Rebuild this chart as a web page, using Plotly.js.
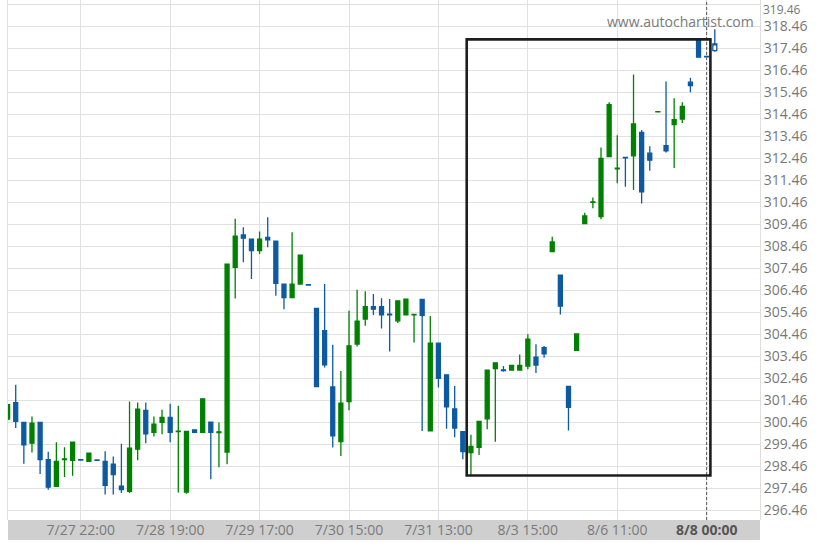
<!DOCTYPE html>
<html><head><meta charset="utf-8">
<script src="https://cdn.plot.ly/plotly-3.0.1.min.js"></script>
<style>html,body{margin:0;padding:0;background:#fff}#chart{width:822px;height:548px}</style>
</head><body><div id="chart"></div>
<script>
// candle index (time slot) and OHLC values
const openP = [300.60,301.35,300.45,299.50,300.45,298.75,297.54,298.75,298.72,298.75,
298.67,298.74,298.67,298.55,297.54,297.31,299.23,300.99,299.99,300.45,
300.67,300.03,297.28,300.10,299.99,300.46,299.98,299.10,307.50,308.98,
308.79,308.26,308.87,308.69,306.74,306.13,306.74,306.72,305.63,304.62,
302.06,299.57,301.39,304.01,305.15,305.72,305.72,305.37,305.07,305.34,
305.34,306.05,300.06,304.05,302.61,301.06,300.03,299.07,299.31,300.61,
302.89,302.84,302.83,302.83,303.01,303.42,303.85,308.22,307.15,302.09,
303.73,309.49,310.46,309.81,312.54,311.99,312.51,312.58,313.65,312.70,
314.58,313.04,314.00,314.25,315.93,317.88,317.10];
const highP = [301.25,302.16,300.45,300.72,300.45,299.11,299.54,299.32,299.55,298.75,
299.05,298.74,299.13,298.90,299.48,301.40,301.35,301.35,300.72,301.02,
301.29,301.20,300.04,300.10,301.52,300.46,300.44,307.65,309.71,309.33,
308.79,309.14,309.78,308.69,306.74,309.10,308.06,306.72,305.63,306.74,
303.98,302.79,305.53,306.48,306.41,306.29,306.10,306.06,306.00,306.06,
305.36,306.05,305.29,304.05,302.61,302.10,300.03,299.88,300.49,302.83,
303.16,303.01,303.04,303.54,304.46,304.00,303.92,308.90,307.15,302.09,
304.47,309.99,310.68,312.96,315.02,313.52,312.51,316.28,313.75,313.01,
314.59,315.96,315.20,315.02,316.13,317.88,317.10];
const lowP = [300.55,300.19,298.57,299.08,298.10,297.38,297.54,297.96,298.02,298.73,
298.64,298.72,297.16,297.16,297.23,297.23,298.72,299.50,299.81,299.91,
299.54,297.26,297.20,299.98,299.99,297.86,298.41,298.54,306.09,307.73,
306.97,308.11,308.42,306.21,305.60,306.13,306.74,306.70,302.08,302.94,
299.30,298.92,301.00,303.90,304.84,305.34,304.72,303.67,304.97,305.34,
304.08,300.06,300.06,302.03,300.16,299.77,298.77,298.03,298.96,300.14,
299.57,302.75,302.83,302.83,302.86,302.70,303.39,308.22,305.36,300.08,
303.73,309.49,310.19,309.69,312.54,311.33,311.17,311.02,310.41,311.90,
314.58,312.73,312.02,314.07,315.47,317.07,317.08];
const closeP = [301.25,300.49,299.43,300.41,298.75,297.50,298.67,298.79,299.55,298.73,
299.05,298.72,297.58,298.07,297.39,299.28,301.05,299.93,300.37,300.67,
299.99,300.05,300.04,299.99,301.52,299.99,300.02,307.65,308.92,308.83,
308.26,308.79,308.76,306.77,306.13,306.74,308.06,306.70,302.08,303.07,
299.83,301.32,303.93,305.06,305.72,305.60,305.34,305.34,305.98,306.06,
305.36,305.32,304.05,302.45,301.15,300.19,299.12,299.35,300.49,302.83,
303.16,302.80,303.04,303.04,304.23,303.06,303.57,308.66,305.74,301.13,
304.47,309.84,310.48,312.46,314.91,312.02,312.49,314.03,310.94,312.38,
314.59,312.81,314.22,314.83,315.78,317.07,317.08];
// current (open) candle
const lastOpen = [317.37], lastHigh = [318.34], lastLow = [317.32], lastClose = [317.67];
const lastIndex = [87];

const tickIndex = [9, 20, 31, 42, 53, 64, 75, 86];
const tickLabels = ['7/27 22:00','7/28 19:00','7/29 17:00','7/30 15:00','7/31 13:00','8/3 15:00','8/6 11:00','8/8 00:00'];
const priceTicks = [296.46,297.46,298.46,299.46,300.46,301.46,302.46,303.46,304.46,305.46,306.46,307.46,308.46,309.46,310.46,311.46,312.46,313.46,314.46,315.46,316.46,317.46,318.46,319.46];
// pattern box: index span and price span
const boxIndex = [56.48, 86.46];
const boxPrice = [298.03, 317.88];
const markerIndex = 86;

const GREEN = '#008000', BLUE = '#0d5aa0';
const idx = openP.map((_, i) => i);

const traces = [{
  type: 'candlestick', x: idx, open: openP, high: highP, low: lowP, close: closeP,
  increasing: {line: {color: GREEN, width: 1.3}, fillcolor: GREEN},
  decreasing: {line: {color: BLUE, width: 1.3}, fillcolor: BLUE},
  hoverinfo: 'skip', showlegend: false
}, {
  type: 'candlestick', x: lastIndex, open: lastOpen, high: lastHigh, low: lastLow, close: lastClose,
  increasing: {line: {color: BLUE, width: 1.3}, fillcolor: '#ffffff'},
  decreasing: {line: {color: BLUE, width: 1.3}, fillcolor: '#ffffff'},
  hoverinfo: 'skip', showlegend: false
}];

const ticktext = tickLabels.map((t, i) => i === tickLabels.length - 1 ? '<b><span style="color:#555">' + t + '</span></b>' : t);
const topTick = priceTicks[priceTicks.length - 1];
// the topmost price label is placed as an annotation so it is not cut at the page edge
const yTickText = priceTicks.map(v => v === topTick ? '' : v.toFixed(2));

const layout = {
  width: 822, height: 548,
  margin: {l: 8, r: 62, t: 0, b: 28, pad: 0},
  paper_bgcolor: '#ffffff', plot_bgcolor: '#ffffff',
  font: {family: 'Open Sans, sans-serif', size: 14, color: '#777'},
  showlegend: false,
  xaxis: {
    range: [0.05, 92.56], rangeslider: {visible: false},
    tickmode: 'array', tickvals: tickIndex, ticktext: ticktext,
    showgrid: true, gridcolor: '#e1e1e1', gridwidth: 1,
    zeroline: false, showline: false, ticks: '', ticklen: 0,
    tickfont: {family: 'Open Sans, sans-serif', size: 14, color: '#7a7a7a'},
    fixedrange: true
  },
  yaxis: {
    side: 'right', range: [296.005, 319.67],
    tickmode: 'array', tickvals: priceTicks, ticktext: yTickText,
    showgrid: true, gridcolor: '#e1e1e1', gridwidth: 1,
    zeroline: false, showline: true, linecolor: '#dedede', linewidth: 1, mirror: true,
    ticks: '', ticklen: 0,
    tickfont: {family: 'Open Sans, sans-serif', size: 14, color: '#777'},
    fixedrange: true
  },
  shapes: [
    {type: 'rect', xref: 'paper', yref: 'paper', x0: 0, x1: 1, y0: -0.0385, y1: 0,
     fillcolor: '#cfcfcf', line: {width: 0}, layer: 'below'},
    {type: 'line', xref: 'x', yref: 'paper', x0: markerIndex, x1: markerIndex, y0: 0, y1: 1,
     line: {color: '#555', width: 1, dash: '3px,2px'}},
    {type: 'rect', xref: 'x', yref: 'y', x0: boxIndex[0], x1: boxIndex[1], y0: boxPrice[0], y1: boxPrice[1],
     line: {color: '#1e1e1e', width: 2.6}, fillcolor: 'rgba(0,0,0,0)'}
  ],
  annotations: [{
    xref: 'paper', yref: 'paper', x: 0.995, y: 0.958, xanchor: 'right', yanchor: 'middle',
    text: 'www.autochartist.com', showarrow: false,
    font: {family: 'Open Sans, sans-serif', size: 14, color: '#7a7a7a'}
  }, {
    xref: 'paper', yref: 'paper', x: 1, y: 1, xanchor: 'left', yanchor: 'top',
    xshift: 1.5, yshift: 0, borderpad: 0,
    text: topTick.toFixed(2), showarrow: false,
    font: {family: 'Open Sans, sans-serif', size: 12, color: '#777'}
  }]
};

Plotly.newPlot('chart', traces, layout, {displayModeBar: false, staticPlot: true});
</script>
</body></html>
